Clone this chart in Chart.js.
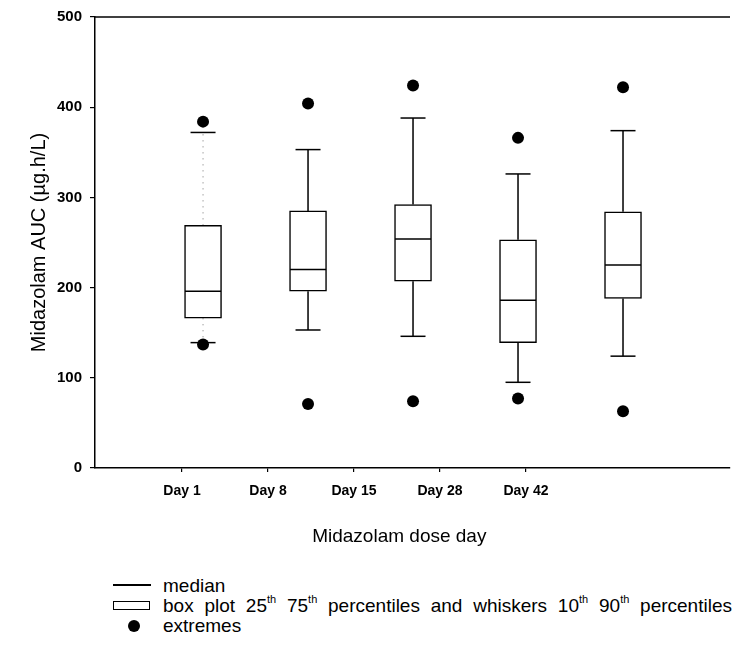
<!DOCTYPE html>
<html><head><meta charset="utf-8">
<script src="https://cdn.jsdelivr.net/npm/chart.js@4/dist/chart.umd.min.js"></script>
<style>
html,body{margin:0;padding:0;background:#fff;}
#wrap{position:relative;width:733px;height:648px;overflow:hidden;}
#c{position:absolute;left:0;top:0;}
.lt{position:absolute;font-family:"Liberation Sans",Arial,sans-serif;font-size:19px;color:#000;white-space:nowrap;line-height:20px;word-spacing:5.5px;}
.lt sup{font-size:11px;vertical-align:top;line-height:10px;position:relative;top:-2px;word-spacing:0;}
</style></head><body>
<div id="wrap">
<canvas id="c" width="733" height="560"></canvas>
<div id="legend">
  <div style="position:absolute;left:113px;top:584px;width:38px;height:2px;background:#000;"></div>
  <div class="lt" style="left:163px;top:576px;">median</div>
  <div style="position:absolute;left:113px;top:601px;width:35px;height:7px;border:1.5px solid #000;background:#fff;"></div>
  <div class="lt" style="left:163px;top:596px;">box plot 25<sup>th</sup> 75<sup>th</sup> percentiles and whiskers 10<sup>th</sup> 90<sup>th</sup> percentiles</div>
  <div style="position:absolute;left:128px;top:620px;width:12px;height:12px;border-radius:50%;background:#000;"></div>
  <div class="lt" style="left:163px;top:616px;">extremes</div>
</div>
</div>
<script>
// ---- data ----
const categories = ['Day 1', 'Day 8', 'Day 15', 'Day 28', 'Day 42'];
const p10 = [139, 153, 146, 95, 124];
const q1 = [166, 196, 207, 139, 188];
const median = [196, 220, 254, 186, 225];
const q3 = [269, 285, 292, 253, 284];
const p90 = [372, 353, 388, 326, 374];
const extremesLow = [137, 71, 74, 77, 63];
const extremesHigh = [384, 404, 424, 366, 422];
const yTicks = [0, 100, 200, 300, 400, 500];

// ---- styling / layout ----
const FONT = '"Liberation Sans", Arial, sans-serif';
const dottedWhiskerIndex = 0; // Day 1 whisker is drawn faint/dotted in the source

const whiskerData = (keep) => {
  const out = [];
  categories.forEach((c, i) => {
    if (!keep(i)) return;
    out.push({x: i, y: q3[i]}, {x: i, y: p90[i]}, {x: i, y: null});
    out.push({x: i, y: q1[i]}, {x: i, y: p10[i]}, {x: i, y: null});
  });
  return out;
};

const frame = {
  id: 'frame',
  afterDraw(chart) {
    const {ctx, chartArea: a} = chart;
    ctx.save();
    ctx.strokeStyle = '#000';
    ctx.lineWidth = 1.5;
    ctx.beginPath();
    ctx.moveTo(a.left, a.top);
    ctx.lineTo(a.right, a.top);
    ctx.stroke();
    ctx.restore();
  }
};

new Chart(document.getElementById('c'), {
  type: 'bar',
  data: {
    datasets: [
      {
        type: 'bar', label: 'box', xAxisID: 'xb',
        data: categories.map((c, i) => ({x: i, y: [q1[i], q3[i]]})),
        backgroundColor: '#fff', borderColor: '#000', borderWidth: 1.5,
        borderSkipped: false, barThickness: 37, grouped: false, order: 2
      },
      {
        type: 'line', label: 'whiskers', xAxisID: 'xb',
        data: whiskerData(i => i !== dottedWhiskerIndex),
        borderColor: '#000', borderWidth: 1.5, pointRadius: 0, spanGaps: false, order: 3
      },
      {
        type: 'line', label: 'whiskers dotted', xAxisID: 'xb',
        data: whiskerData(i => i === dottedWhiskerIndex),
        borderColor: '#777', borderWidth: 1, borderDash: [1, 5], pointRadius: 0, spanGaps: false, order: 3
      },
      {
        type: 'scatter', label: 'median', xAxisID: 'xb',
        data: categories.map((c, i) => ({x: i, y: median[i]})),
        pointStyle: 'line', pointRadius: 18, pointBorderColor: '#000', pointBorderWidth: 1.5, order: 0
      },
      {
        type: 'scatter', label: 'caps', xAxisID: 'xb',
        data: categories.flatMap((c, i) => [{x: i, y: p10[i]}, {x: i, y: p90[i]}]),
        pointStyle: 'line', pointRadius: 12.5, pointBorderColor: '#000', pointBorderWidth: 1.5, order: 0
      },
      {
        type: 'scatter', label: 'extremes', xAxisID: 'xb',
        data: categories.flatMap((c, i) => [{x: i, y: extremesLow[i]}, {x: i, y: extremesHigh[i]}]),
        pointStyle: 'circle', pointRadius: 6, pointBackgroundColor: '#000', pointBorderColor: '#000', pointBorderWidth: 0, order: 0
      }
    ]
  },
  options: {
    responsive: false,
    animation: false,
    events: [],
    layout: {autoPadding: false, padding: {top: 17, right: 3, left: 0, bottom: 0}},
    plugins: {legend: {display: false}, tooltip: {enabled: false}},
    scales: {
      xb: {type: 'linear', display: false, offset: false, bounds: 'data', min: -1.029, max: 5.019,
        grid: {offset: false}},
      x: {
        type: 'linear', position: 'bottom', offset: false, bounds: 'data', min: -1.012, max: 6.372,
        afterBuildTicks: s => { s.ticks = categories.map((c, i) => ({value: i})); },
        afterFit: s => { s.height = 92; s.paddingLeft = 0; s.paddingRight = 0; },
        ticks: {
          autoSkip: false, maxRotation: 0, padding: 11, color: '#000',
          font: {family: FONT, size: 14, weight: 'bold'},
          callback: v => categories[v]
        },
        grid: {offset: false, drawOnChartArea: false, drawTicks: true, tickLength: 4, color: '#000', lineWidth: 1.2},
        border: {display: true, color: '#000', width: 1.5},
        title: {display: true, text: 'Midazolam dose day\u00a0\u00a0\u00a0\u00a0\u00a0', color: '#000',
          font: {family: FONT, size: 19}, padding: {top: 0, bottom: 12}}
      },
      y: {
        type: 'linear', position: 'left', min: 0, max: 500,
        afterBuildTicks: s => { s.ticks = yTicks.map(v => ({value: v})); },
        afterFit: s => { s.width = 95; },
        ticks: {padding: 8, color: '#000', font: {family: FONT, size: 15, weight: 'bold'}},
        grid: {drawOnChartArea: false, drawTicks: true, tickLength: 5, color: '#000', lineWidth: 1.2},
        border: {display: true, color: '#000', width: 1.5},
        title: {display: true, text: 'Midazolam AUC (µg.h/L)', color: '#000',
          font: {family: FONT, size: 20}, padding: {top: 27, bottom: 0}}
      }
    }
  },
  plugins: [frame]
});
</script>
</body></html>
